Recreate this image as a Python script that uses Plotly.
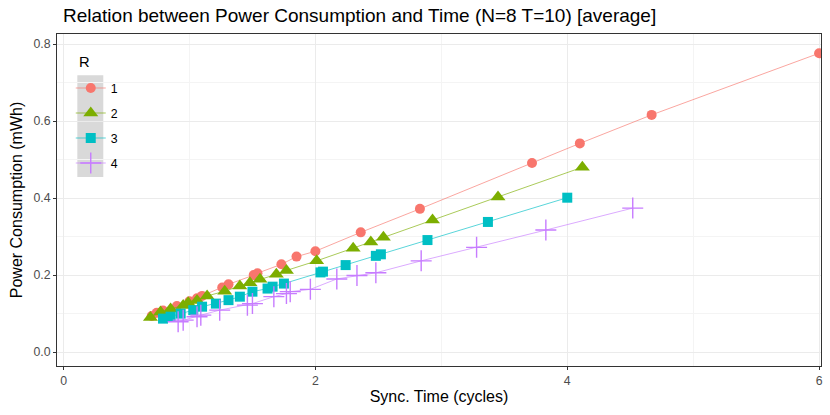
import plotly.graph_objects as go

# ---- data ----
r1_x = [0.70, 0.74, 0.79, 0.90, 1.00, 1.06, 1.10, 1.26, 1.31, 1.51, 1.54, 1.73, 1.85, 2.00, 2.36, 2.83, 3.72, 4.10, 4.67, 6.00]
r1_y = [0.094, 0.102, 0.108, 0.120, 0.132, 0.140, 0.146, 0.168, 0.176, 0.200, 0.205, 0.228, 0.248, 0.262, 0.311, 0.372, 0.491, 0.542, 0.616, 0.776]

r2_x = [0.69, 0.77, 0.85, 0.95, 0.99, 1.06, 1.14, 1.28, 1.40, 1.48, 1.56, 1.69, 1.77, 2.01, 2.30, 2.44, 2.54, 2.93, 3.45, 4.12]
r2_y = [0.090, 0.104, 0.112, 0.121, 0.128, 0.134, 0.146, 0.158, 0.172, 0.180, 0.189, 0.202, 0.212, 0.237, 0.270, 0.286, 0.298, 0.343, 0.403, 0.480]

r3_x = [0.79, 0.85, 0.93, 1.03, 1.10, 1.21, 1.31, 1.40, 1.50, 1.62, 1.66, 1.75, 2.04, 2.06, 2.24, 2.48, 2.52, 2.89, 3.37, 4.00]
r3_y = [0.087, 0.092, 0.100, 0.109, 0.118, 0.126, 0.135, 0.144, 0.157, 0.165, 0.170, 0.178, 0.207, 0.209, 0.226, 0.250, 0.254, 0.291, 0.338, 0.401]

r4_x = [0.91, 0.95, 1.06, 1.09, 1.24, 1.46, 1.50, 1.67, 1.77, 1.80, 1.96, 2.17, 2.33, 2.48, 2.84, 3.28, 3.83, 4.52]
r4_y = [0.079, 0.083, 0.092, 0.096, 0.109, 0.122, 0.126, 0.144, 0.152, 0.157, 0.163, 0.190, 0.199, 0.206, 0.237, 0.272, 0.317, 0.374]

series_names = ["1", "2", "3", "4"]
legend_title = "R"
colors = ["#F8766D", "#7CAE00", "#00BFC4", "#C77CFF"]
line_colors = ["rgba(248,118,109,0.65)", "rgba(124,174,0,0.65)", "rgba(0,191,196,0.65)", "rgba(199,124,255,0.65)"]
symbols = ["circle", "triangle-up", "square", "cross-thin"]
sizes = [10, 13, 10, 15]

xs = [r1_x, r2_x, r3_x, r4_x]
ys = [r1_y, r2_y, r3_y, r4_y]

FONT = "Liberation Sans, Arial"

fig = go.Figure()
for i in range(4):
    mk = dict(symbol=symbols[i], size=sizes[i], color=colors[i])
    if symbols[i] == "cross-thin":
        mk["line"] = dict(color=colors[i], width=1.4)
    else:
        mk["line"] = dict(width=0)
    fig.add_trace(go.Scatter(
        x=xs[i], y=ys[i], mode="lines+markers", name=series_names[i],
        legendgroup=series_names[i],
        line=dict(color=line_colors[i], width=1),
        marker=mk,
    ))

grid = "#EBEBEB"
axis_common = dict(
    showgrid=True, gridcolor=grid, gridwidth=1.1,
    zeroline=False, automargin=False,
    showline=True, mirror=True, linecolor="#333333", linewidth=1,
    ticks="outside", ticklen=3, tickcolor="#333333", tickwidth=1,
    tickfont=dict(family=FONT, size=12.3, color="#4D4D4D"),
)

fig.update_xaxes(
    range=[-0.052, 6.015], tickvals=[0, 2, 4, 6],
    minor=dict(tickvals=[1, 3, 5], showgrid=True, gridcolor="#F4F4F4", gridwidth=0.6, ticks=""),
    title=dict(text="Sync. Time (cycles)", font=dict(family=FONT, size=16, color="black"), standoff=4),
    **axis_common,
)
fig.update_yaxes(
    range=[-0.036, 0.826], tickvals=[0, 0.2, 0.4, 0.6, 0.8], tickformat=".1f",
    minor=dict(tickvals=[0.1, 0.3, 0.5, 0.7], showgrid=True, gridcolor="#F4F4F4", gridwidth=0.6, ticks=""),
    title=dict(text="Power Consumption (mWh)", font=dict(family=FONT, size=16, color="black"), standoff=6),
    **axis_common,
)

# grey legend-key background (ggplot style)
fig.add_shape(type="rect", xref="paper", yref="paper",
              x0=0.0266, x1=0.0606, y0=0.569, y1=0.876,
              fillcolor="#D9D9D9", line=dict(width=0), layer="below")
fig.add_annotation(text=legend_title, xref="paper", yref="paper",
                   x=0.0266, y=0.917, xanchor="left", yanchor="middle",
                   showarrow=False, font=dict(family=FONT, size=14.7, color="black"))

fig.update_layout(
    width=830, height=415,
    margin=dict(l=57, r=9, t=34, b=49, autoexpand=False),
    paper_bgcolor="white", plot_bgcolor="white",
    title=dict(text="Relation between Power Consumption and Time (N=8 T=10) [average]",
               x=63 / 830, xanchor="left", y=1 - 15 / 415, yanchor="middle",
               font=dict(family=FONT, size=19, color="black")),
    legend=dict(
        x=0.018, y=0.881, xanchor="left", yanchor="top",
        bgcolor="rgba(0,0,0,0)", itemwidth=30, tracegroupgap=6,
        traceorder="grouped",
        font=dict(family=FONT, size=12.3, color="black"),
    ),
    showlegend=True,
)

# remove the default 8px page margin so the figure sits at the window's corner
fig.write_html("out.html", config={"displayModeBar": False},
               post_script="document.body.style.margin='0px';")
